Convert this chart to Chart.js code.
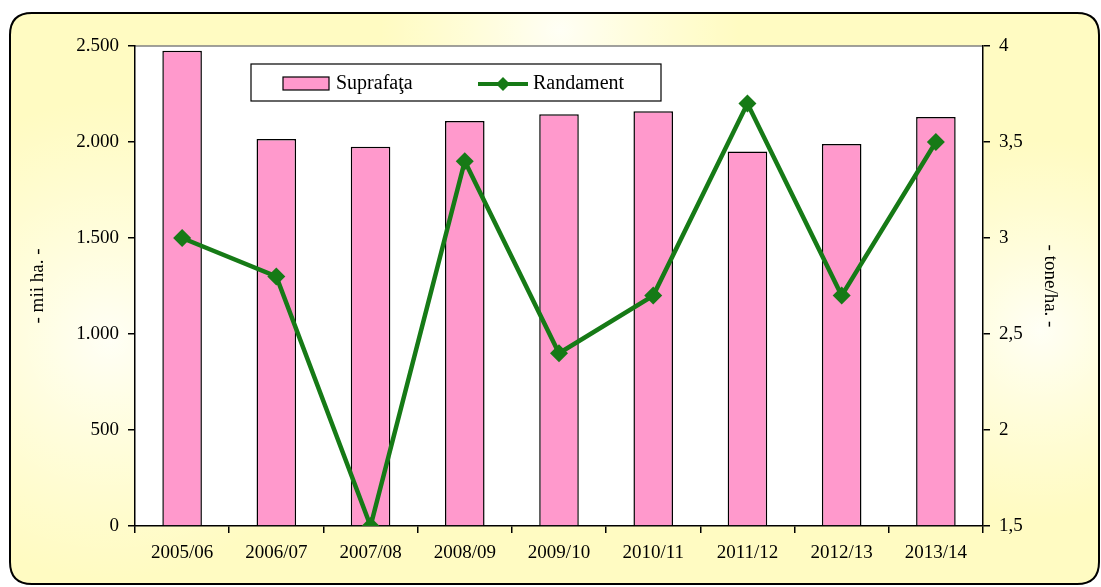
<!DOCTYPE html>
<html><head><meta charset="utf-8">
<script src="https://cdn.jsdelivr.net/npm/chart.js@4.4.1/dist/chart.umd.min.js"></script>
<style>html,body{margin:0;padding:0;background:#fff;}#wrap{width:1101px;height:587px;position:relative;}</style>
</head><body><div id="wrap"><canvas id="c" width="1101" height="587"></canvas></div>
<script>
const categories = ["2005/06","2006/07","2007/08","2008/09","2009/10","2010/11","2011/12","2012/13","2013/14"];
const suprafata = [2475, 2015, 1975, 2110, 2145, 2160, 1950, 1990, 2130];
const randament = [3.0, 2.8, 1.5, 3.4, 2.4, 2.7, 3.7, 2.7, 3.5];
const leftTicks = ["0","500","1.000","1.500","2.000","2.500"];
const rightTicks = ["1,5","2","2,5","3","3,5","4"];
const seriesNames = ["Suprafaţa","Randament"];
const axisTitles = ["- mii ha. -","- tone/ha. -"];

const FONT = "'Liberation Serif', 'Times New Roman', serif";
const PINK = "#FF99CC", GREEN = "#167A16";

function rr(ctx,x,y,w,h,r){ctx.beginPath();ctx.moveTo(x+r,y);ctx.lineTo(x+w-r,y);ctx.quadraticCurveTo(x+w,y,x+w,y+r);ctx.lineTo(x+w,y+h-r);ctx.quadraticCurveTo(x+w,y+h,x+w-r,y+h);ctx.lineTo(x+r,y+h);ctx.quadraticCurveTo(x,y+h,x,y+h-r);ctx.lineTo(x,y+r);ctx.quadraticCurveTo(x,y,x+r,y);ctx.closePath();}

const bgPlugin = {
  id:'bg',
  beforeDraw(chart){
    const ctx = chart.ctx, ca = chart.chartArea;
    ctx.save();
    rr(ctx,10,13,1089,571,22);
    ctx.fillStyle = "#FFFBC2";
    ctx.fill();
    ctx.save(); ctx.clip();
    const spots=[[110,340,240],[1040,330,190],[560,30,180]];
    for(const [x,y,r] of spots){
      const g=ctx.createRadialGradient(x,y,0,x,y,r);
      g.addColorStop(0,"rgba(255,255,248,0.95)");g.addColorStop(1,"rgba(255,255,235,0)");
      ctx.fillStyle=g;ctx.fillRect(0,0,1101,587);
    }
    ctx.restore();
    rr(ctx,10,13,1089,571,22);
    ctx.lineWidth=2;ctx.strokeStyle="#000";ctx.stroke();
    ctx.fillStyle="#fff";
    ctx.fillRect(ca.left,ca.top,ca.right-ca.left,ca.bottom-ca.top);
    ctx.strokeStyle="#808080";ctx.lineWidth=1.5;
    ctx.beginPath();ctx.moveTo(ca.left,ca.top);ctx.lineTo(ca.right,ca.top);ctx.stroke();
    ctx.restore();
  },
  afterDraw(chart){
    const ctx=chart.ctx;
    const bars=chart.data.datasets.find(d=>d.type==='bar');
    const line=chart.data.datasets.find(d=>d.type==='line');
    ctx.save();
    const lx=251, ly=64, lw=410, lh=37;
    ctx.fillStyle="#fff";ctx.fillRect(lx,ly,lw,lh);
    ctx.strokeStyle="#000";ctx.lineWidth=1.2;ctx.strokeRect(lx,ly,lw,lh);
    ctx.fillStyle=PINK;ctx.fillRect(283,77,46,13);
    ctx.lineWidth=1.2;ctx.strokeRect(283,77,46,13);
    ctx.font="20px "+FONT;ctx.fillStyle="#000";ctx.textBaseline="middle";
    ctx.fillText(bars.label,336,84);
    ctx.strokeStyle=GREEN;ctx.lineWidth=4;
    ctx.beginPath();ctx.moveTo(478,84);ctx.lineTo(528,84);ctx.stroke();
    ctx.fillStyle=GREEN;ctx.beginPath();ctx.moveTo(503,77);ctx.lineTo(510,84);ctx.lineTo(503,91);ctx.lineTo(496,84);ctx.closePath();ctx.fill();
    ctx.fillStyle="#000";
    ctx.fillText(line.label,533,84);
    ctx.restore();
  }
};

new Chart(document.getElementById('c'),{
  data:{
    labels:categories,
    datasets:[
      {type:'line',label:seriesNames[1],data:randament,yAxisID:'y1',borderColor:GREEN,backgroundColor:GREEN,borderWidth:4.5,
       pointStyle:'rectRot',pointRadius:9,pointHoverRadius:9,pointBorderWidth:0,tension:0,order:0},
      {type:'bar',label:seriesNames[0],data:suprafata,yAxisID:'y',backgroundColor:PINK,borderColor:"#000",borderWidth:1.5,
       categoryPercentage:1,barPercentage:0.42,order:1}
    ]
  },
  options:{
    responsive:false,animation:false,
    layout:{padding:{top:46,left:0,right:0,bottom:0}},
    plugins:{legend:{display:false},tooltip:{enabled:false}},
    scales:{
      x:{grid:{display:true,drawOnChartArea:false,color:"#000",lineWidth:1.5,tickLength:7,offset:true},
         border:{color:"#000",width:1.5},
         ticks:{color:"#000",font:{family:FONT,size:19},padding:9,maxRotation:0},
         afterFit(s){s.height=61;}},
      y:{position:'left',min:0,max:2500,
         grid:{drawOnChartArea:false,color:"#000",lineWidth:1.5,tickLength:7},
         border:{color:"#000",width:1.5},
         ticks:{stepSize:500,color:"#000",font:{family:FONT,size:19},padding:9,callback:(v,i)=>leftTicks[i]},
         title:{display:true,text:axisTitles[0],color:"#000",font:{family:FONT,size:19},padding:{top:27,bottom:0}},
         afterFit(s){s.width=135;}},
      y1:{position:'right',min:1.5,max:4,
         grid:{drawOnChartArea:false,color:"#000",lineWidth:1.5,tickLength:7},
         border:{color:"#000",width:1.5},
         ticks:{stepSize:0.5,color:"#000",font:{family:FONT,size:19},padding:9,callback:(v,i)=>rightTicks[i]},
         title:{display:true,text:axisTitles[1],color:"#000",font:{family:FONT,size:19},padding:{top:40,bottom:0}},
         afterFit(s){s.width=118;}}
    }
  },
  plugins:[bgPlugin]
});
</script></body></html>
